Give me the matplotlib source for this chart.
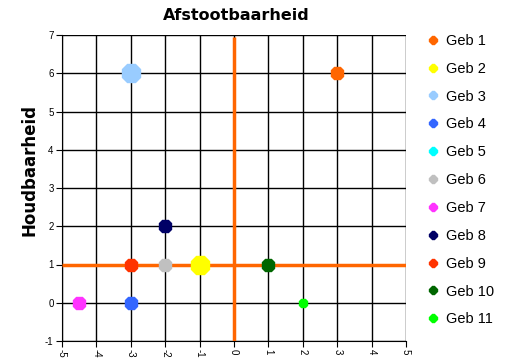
import numpy as np
import matplotlib
matplotlib.use("Agg")
import matplotlib.pyplot as plt
from matplotlib.lines import Line2D

plt.rcParams['font.family'] = ['Liberation Sans', 'DejaVu Sans']

series_names = ["Geb 1", "Geb 2", "Geb 3", "Geb 4", "Geb 5", "Geb 6",
                "Geb 7", "Geb 8", "Geb 9", "Geb 10", "Geb 11"]
x_values = [3, -1, -3, -3, np.nan, -2, -4.5, -2, -3, 1, 2]
y_values = [6, 1, 6, 0, np.nan, 1, 0, 2, 1, 1, 0]
colors = ["#FF6600", "#FFFF00", "#99CCFF", "#3366FF", "#00FFFF", "#C0C0C0",
          "#FF33FF", "#000066", "#FF3300", "#006600", "#00FF00"]
marker_sizes = [10, 13.5, 13.5, 10, 10, 10, 10, 10, 10, 10, 7]

# axis cross lines
vline_x = [0, 0]
vline_y = [-1, 6.95]
hline_x = [-5, 5]
hline_y = [1, 1]

x_ticks = list(range(-5, 6))
y_ticks = list(range(-1, 8))

fig = plt.figure(figsize=(5.10, 3.61), dpi=100)
ax = fig.add_axes([62 / 510, 1 - 341 / 361, 344 / 510, 306 / 361])

ax.set_xlim(-5, 5)
ax.set_ylim(-1, 7)
ax.set_xticks(x_ticks)
ax.set_yticks(y_ticks)
ax.grid(True, color="black", linewidth=1.0)
ax.set_axisbelow(True)
for s in ax.spines.values():
    s.set_visible(False)
ax.spines["left"].set_visible(True)
ax.spines["bottom"].set_visible(True)
ax.spines["left"].set_color("black")
ax.spines["bottom"].set_color("black")
ax.tick_params(axis="both", direction="out", length=4, width=0.8,
               labelsize=7, pad=2)
ax.set_xticklabels([str(t) for t in x_ticks], rotation=-90)
ax.set_yticklabels([str(t) for t in y_ticks])

ax.plot(vline_x, vline_y, color="#FF6600", linewidth=2.5, solid_capstyle="butt", zorder=3)
ax.plot(hline_x, hline_y, color="#FF6600", linewidth=2.5, solid_capstyle="butt", zorder=3)

for name, xv, yv, c, ms in zip(series_names, x_values, y_values, colors, marker_sizes):
    ax.plot([xv], [yv], linestyle="none", marker="8", markersize=ms,
            color=c, markeredgecolor=c, zorder=4)

fig.text(236 / 510, 1 - 16 / 361, "Afstootbaarheid", fontsize=11.5,
         fontweight="bold", family="DejaVu Sans", ha="center", va="center")
fig.text(30 / 510, 1 - 170 / 361, "Houdbaarheid", fontsize=12,
         fontweight="bold", family="DejaVu Sans", ha="center", va="center",
         rotation=90)

handles = [Line2D([0], [0], linestyle="none", marker="8", markersize=5.5,
                  color=c, markeredgecolor=c) for c in colors]
fig.legend(handles, series_names, loc="upper left",
           bbox_to_anchor=(420 / 510, 1 - 28 / 361), frameon=False,
           fontsize=10.5, handletextpad=0.35, labelspacing=0.95,
           handlelength=1.0, borderaxespad=0)

fig.savefig("out.png", dpi=100)
